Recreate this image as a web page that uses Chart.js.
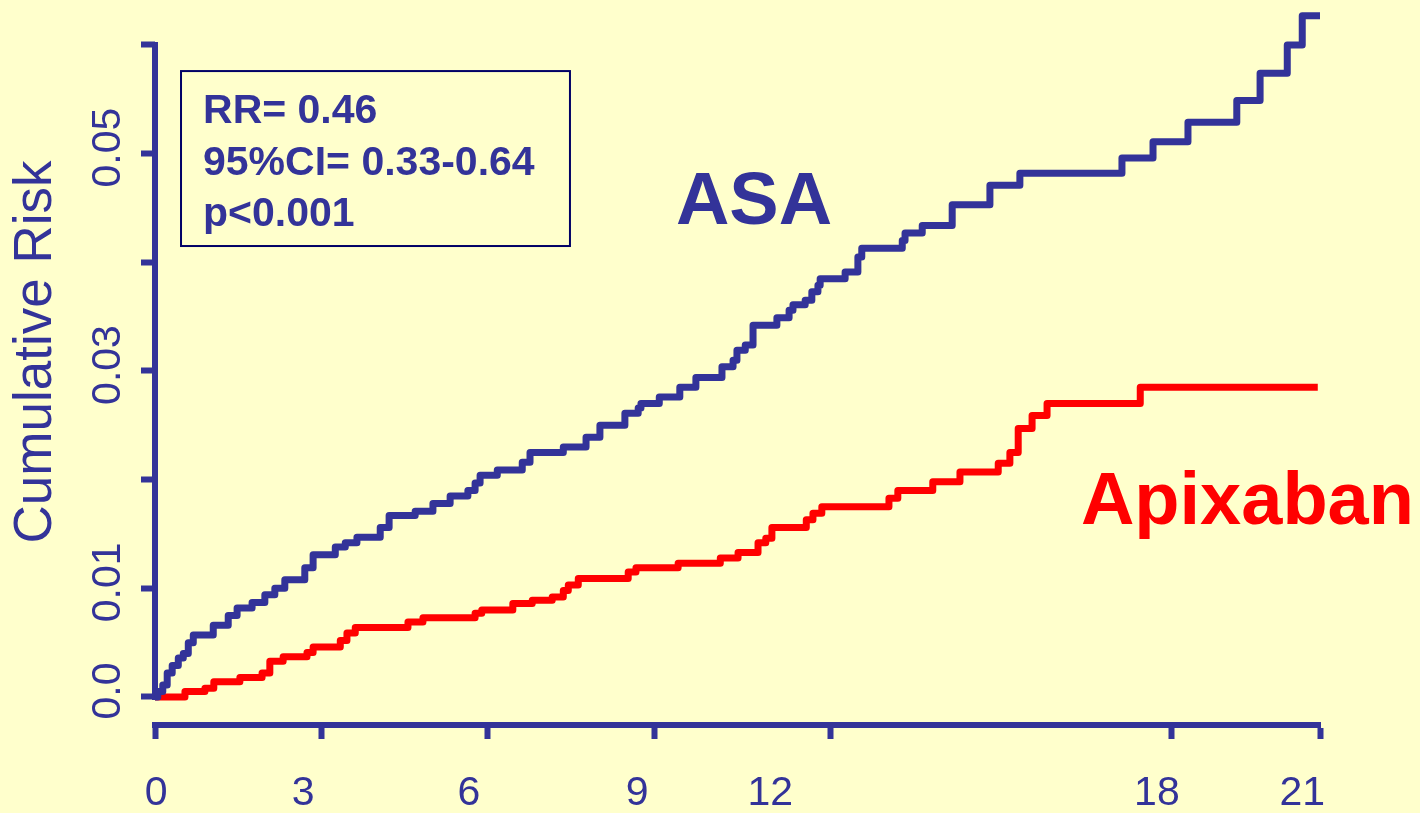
<!DOCTYPE html>
<html>
<head>
<meta charset="utf-8">
<script src="https://cdn.jsdelivr.net/npm/chart.js@4.4.1/dist/chart.umd.min.js"></script>
<style>
  html, body { margin: 0; padding: 0; background: #ffffcc; }
  #wrap { width: 1420px; height: 813px; position: relative; }
</style>
</head>
<body>
<div id="wrap"><canvas id="km"></canvas></div>
<script>
// Kaplan-Meier style cumulative risk: month at which each step occurs and the risk after it
const asaMonths = [0, 0.05, 0.14, 0.22, 0.31, 0.42, 0.51, 0.6, 0.69, 1.05, 1.32, 1.48, 1.75, 1.98, 2.16, 2.34,
  2.7, 2.85, 3.25, 3.43, 3.64, 4.06, 4.22, 4.69, 5.01, 5.32, 5.64, 5.77, 5.86, 6.17, 6.62, 6.76, 7.36, 7.77,
  8.02, 8.47, 8.71, 8.76, 9.09, 9.46, 9.75, 10.22, 10.42, 10.49, 10.64, 10.78, 11.21, 11.43, 11.5, 11.72,
  11.84, 11.95, 11.99, 12.44, 12.67, 12.74, 13.47, 13.52, 13.83, 14.37, 15.05, 15.59, 17.43, 17.99, 18.62,
  19.5, 19.92, 20.41, 20.68, 21];
const asaRisk = [0, 0.0005, 0.0011, 0.0022, 0.0029, 0.0036, 0.004, 0.005, 0.0057, 0.0066, 0.0075, 0.0082,
  0.0087, 0.0094, 0.01, 0.0108, 0.0119, 0.0131, 0.0138, 0.0142, 0.0147, 0.0156, 0.0167, 0.0171, 0.0178,
  0.0185, 0.019, 0.0197, 0.0204, 0.0209, 0.0216, 0.0225, 0.023, 0.0239, 0.025, 0.0261, 0.0266, 0.027,
  0.0276, 0.0285, 0.0294, 0.0304, 0.031, 0.0319, 0.0324, 0.0342, 0.0349, 0.0356, 0.0361, 0.0365, 0.0373,
  0.0379, 0.0385, 0.0391, 0.0405, 0.0413, 0.042, 0.0427, 0.0434, 0.0453, 0.0471, 0.0482, 0.0496, 0.0511,
  0.0529, 0.0549, 0.0574, 0.06, 0.0627, 0.0627];

const apixabanMonths = [0, 0.54, 0.9, 1.06, 1.53, 1.93, 2.07, 2.31, 2.74, 2.85, 3.34, 3.46, 3.61, 4.56, 4.83,
  5.77, 5.89, 6.45, 6.8, 7.16, 7.36, 7.45, 7.63, 8.53, 8.67, 9.43, 10.19, 10.51, 10.87, 11.01, 11.12, 11.74,
  11.86, 12.02, 13.23, 13.39, 14.02, 14.51, 15.2, 15.41, 15.56, 15.81, 16.08, 17.76, 20.96];
const apixabanRisk = [0, 0.0005, 0.0008, 0.0014, 0.0018, 0.0022, 0.0033, 0.0037, 0.0041, 0.0046, 0.0052,
  0.0059, 0.0064, 0.0069, 0.0073, 0.0077, 0.008, 0.0086, 0.0089, 0.0092, 0.0098, 0.0103, 0.0109, 0.0115,
  0.0119, 0.0123, 0.0128, 0.0133, 0.0142, 0.0146, 0.0156, 0.0163, 0.0169, 0.0175, 0.0183, 0.019, 0.0198,
  0.0207, 0.0215, 0.0225, 0.0247, 0.0259, 0.027, 0.0285, 0.0285];

const xTickLabels = ['0', '3', '6', '9', '12', '18', '21'];
const yTickValues = [0, 0.01, 0.02, 0.03, 0.04, 0.05, 0.06];
const yTickLabels = ['0.0', '0.01', '', '0.03', '', '0.05', ''];
const yAxisTitle = 'Cumulative Risk';
const statsLines = ['RR= 0.46', '95%CI= 0.33-0.64', 'p<0.001'];
const seriesNames = ['ASA', 'Apixaban'];

// ---- styling / layout ----
const NAVY = '#333399';
const RED = '#ff0000';
const BG = '#ffffcc';
const FONT = "'Liberation Sans', Arial, Helvetica, sans-serif";
// tick-mark and tick-label placement along the month axis
const X_MARK_AT = [0, 3, 6, 9, 12.17, 18.33, 21];
const X_LABEL_AT = [0.02, 2.67, 5.66, 8.69, 11.09, 18.06, 20.68];

const toPoints = (xs, ys) => xs.map((x, i) => ({ x, y: ys[i] }));

function noPad(s) {
  s.paddingLeft = 0; s.paddingRight = 0; s.paddingTop = 0; s.paddingBottom = 0;
}

const decor = {
  id: 'decor',
  beforeDraw(chart) {
    const c = chart.ctx;
    c.save();
    c.fillStyle = BG;
    c.fillRect(0, 0, chart.width, chart.height);
    c.restore();
  },
  beforeDatasetsDraw(chart) {
    // vertical axis line spanning 0 .. 0.06
    const c = chart.ctx, y = chart.scales.y, x0 = chart.chartArea.left;
    c.save();
    c.strokeStyle = NAVY;
    c.lineWidth = 6;
    c.beginPath();
    c.moveTo(x0, y.getPixelForValue(0.06) - 3);
    c.lineTo(x0, y.getPixelForValue(0) + 3);
    c.stroke();
    c.restore();
  },
  afterDraw(chart) {
    const c = chart.ctx, xs = chart.scales.x, ys = chart.scales.y;
    c.save();
    // axis title
    c.translate(36, ys.getPixelForValue(0.03175));
    c.rotate(-Math.PI / 2);
    c.fillStyle = NAVY;
    c.font = '53px ' + FONT;
    c.textAlign = 'center';
    c.textBaseline = 'middle';
    c.fillText(yAxisTitle, 0, 0);
    c.restore();

    // statistics box
    const bl = xs.getPixelForValue(0.469), br = xs.getPixelForValue(7.48);
    const bt = ys.getPixelForValue(0.0576), bb = ys.getPixelForValue(0.0415);
    c.save();
    c.strokeStyle = '#000066';
    c.lineWidth = 2;
    c.strokeRect(bl, bt, br - bl, bb - bt);
    c.fillStyle = NAVY;
    c.font = 'bold 41px ' + FONT;
    c.textAlign = 'left';
    c.textBaseline = 'alphabetic';
    statsLines.forEach((t, i) => c.fillText(t, bl + 22, bt + 52 + i * 51.5));
    c.restore();

    // series labels
    c.save();
    c.font = 'bold 74px ' + FONT;
    c.textAlign = 'left';
    c.textBaseline = 'alphabetic';
    c.fillStyle = NAVY;
    c.fillText(seriesNames[0], xs.getPixelForValue(9.39), ys.getPixelForValue(0.0435));
    c.fillStyle = RED;
    c.fillText(seriesNames[1], xs.getPixelForValue(16.69), ys.getPixelForValue(0.01592));
    c.restore();
  }
};

const lineStyle = {
  borderWidth: 7,
  stepped: 'before',
  pointRadius: 0,
  pointHoverRadius: 0,
  fill: false,
  borderJoinStyle: 'round',
  borderCapStyle: 'butt',
  clip: false
};

new Chart(document.getElementById('km'), {
  type: 'line',
  data: {
    datasets: [
      Object.assign({ label: seriesNames[0], data: toPoints(asaMonths, asaRisk), borderColor: NAVY }, lineStyle),
      Object.assign({ label: seriesNames[1], data: toPoints(apixabanMonths, apixabanRisk), borderColor: RED }, lineStyle)
    ]
  },
  options: {
    responsive: true,
    maintainAspectRatio: false,
    animation: false,
    devicePixelRatio: 1,
    layout: { padding: { left: 0, top: 5, right: 100, bottom: 0 } },
    plugins: { legend: { display: false }, tooltip: { enabled: false } },
    scales: {
      x: {
        type: 'linear', position: 'bottom', weight: 0, min: 0, max: 21,
        afterBuildTicks: s => { s.ticks = X_MARK_AT.map(v => ({ value: v })); },
        ticks: { display: false },
        grid: { drawOnChartArea: false, drawTicks: true, tickLength: 14, tickWidth: 6, color: NAVY },
        border: { display: true, color: NAVY, width: 6 },
        afterFit: s => { s.height = 16; noPad(s); }
      },
      x2: {
        type: 'linear', position: 'bottom', weight: 1, min: 0, max: 21,
        afterBuildTicks: s => { s.ticks = X_LABEL_AT.map(v => ({ value: v })); },
        ticks: {
          callback: (v, i) => xTickLabels[i],
          font: { family: FONT, size: 41 }, color: NAVY,
          padding: 28, minRotation: 0, maxRotation: 0, autoSkip: false
        },
        grid: { display: false, drawTicks: false, tickLength: 0 },
        border: { display: false },
        afterFit: s => { s.height = 72; noPad(s); }
      },
      y: {
        type: 'linear', position: 'left', min: -0.002577, max: 0.06368,
        afterBuildTicks: s => { s.ticks = yTickValues.map(v => ({ value: v })); },
        ticks: {
          callback: (v, i) => yTickLabels[i],
          font: { family: FONT, size: 41 }, color: NAVY,
          minRotation: 90, maxRotation: 90, crossAlign: 'center',
          padding: -8, labelOffset: -6, autoSkip: false
        },
        grid: { drawOnChartArea: false, drawTicks: true, tickLength: 14, tickWidth: 6, color: NAVY },
        border: { display: false },
        afterFit: s => { s.width = 155; noPad(s); }
      }
    }
  },
  plugins: [decor]
});
</script>
</body>
</html>
